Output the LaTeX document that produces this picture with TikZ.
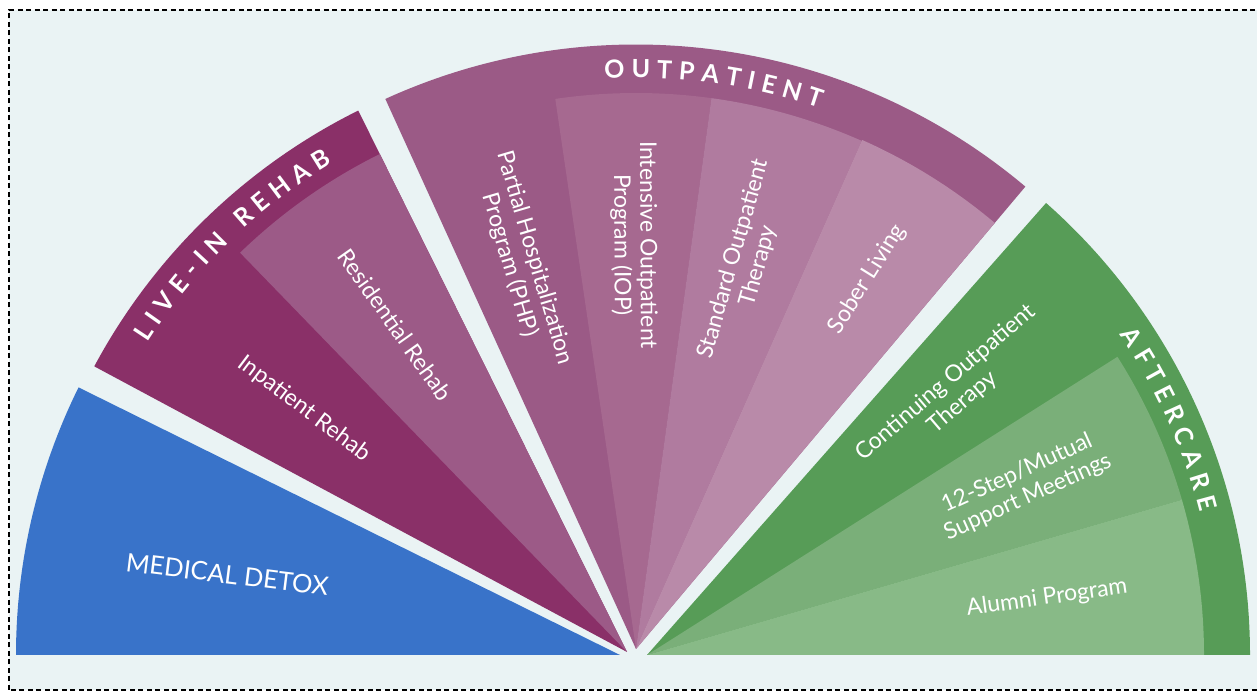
\documentclass[tikz,border=0pt]{standalone}
\usepackage{fontspec}
\setmainfont{Lato}
\usetikzlibrary{calc}
\definecolor{bgc}{HTML}{EAF3F4}
\definecolor{detoxc}{HTML}{3973C9}
\definecolor{liveinc}{HTML}{8A3068}
\definecolor{residc}{HTML}{9C5A87}
\definecolor{outpc}{HTML}{9B5A86}
\definecolor{iopc}{HTML}{A66990}
\definecolor{sotc}{HTML}{B07B9F}
\definecolor{soberc}{HTML}{B98AA9}
\definecolor{afterc}{HTML}{579C57}
\definecolor{stepc}{HTML}{7AAF79}
\definecolor{alumnic}{HTML}{88BA87}
\newcommand\hdrsize{25}
\newcommand\hdrfont{\fontsize{25}{25}\selectfont\bfseries}
\newcommand\mywedge[5]{\fill[#1] (#2) -- ++(#3:#5pt) arc[start angle=#3, end angle=#4, radius=#5pt] -- cycle;}
% #1 apex, #2 mid angle, #3 baseline radius, #4 tracking, #5 letter/width(em) list
\newcommand\arctext[5]{%
  \gdef\arcTot{0}%
  \foreach \ltr/\lw in {#5}{%
    \pgfmathsetmacro\tmpw{\arcTot+\lw*\hdrsize+#4}%
    \xdef\arcTot{\tmpw}}%
  \pgfmathsetmacro\arcStart{#2+(\arcTot-#4)/2/#3*180/pi}%
  \xdef\arcStart{\arcStart}%
  \gdef\arcAcc{0}%
  \foreach \ltr/\lw in {#5}{%
    \pgfmathsetmacro\ang{\arcStart-(\arcAcc+\lw*\hdrsize/2)/#3*180/pi}%
    \node[hdr, rotate=\ang-90] at ($(#1)+(\ang:#3pt)$) {\ltr};
    \pgfmathsetmacro\tmpw{\arcAcc+\lw*\hdrsize+#4}%
    \xdef\arcAcc{\tmpw}}%
}
\tikzset{
  hdr/.style={text=white, font=\hdrfont, inner sep=0pt, anchor=base},
  lbl/.style={text=white, font=\fontsize{23}{26}\selectfont, align=center, inner sep=0pt},
  big/.style={text=white, font=\fontsize{25.5}{28}\selectfont, inner sep=0pt}
}
\begin{document}
\begin{tikzpicture}[x=1pt,y=1pt]
\useasboundingbox (0,0) rectangle (1257,692);
\fill[white] (0,0) rectangle (1257,692);
\fill[bgc] (9,2) rectangle (1266,682);
\draw[black, line width=1.5pt, dash pattern=on 5pt off 3.5pt] (9,2) rectangle (1266,682);

\coordinate (D) at (620,37);
\coordinate (LI) at (627,40);
\coordinate (OP) at (636,43);
\coordinate (AC) at (647,37);

% Medical detox
\mywedge{detoxc}{D}{180}{153.7}{604}
% Live-in rehab
\mywedge{liveinc}{LI}{151.8}{116.4}{604.5}
\mywedge{residc}{LI}{134.1}{116.4}{556}
% Outpatient
\mywedge{outpc}{OP}{114.5}{49.9}{604.5}
\mywedge{iopc}{OP}{98.35}{82.2}{556}
\mywedge{sotc}{OP}{82.2}{66.05}{556}
\mywedge{soberc}{OP}{66.05}{49.9}{557}
% Aftercare
\mywedge{afterc}{AC}{48.56}{0}{603}
\mywedge{stepc}{AC}{32.37}{16.19}{557}
\mywedge{alumnic}{AC}{16.19}{0}{557}

% headers
\arctext{LI}{134.1}{571}{7}{L/0.50,I/0.29,V/0.70,E/0.56,-/0.38,I/0.29,N/0.76,~/0.25,R/0.64,E/0.56,H/0.76,A/0.70,B/0.66}
\arctext{OP}{82.2}{571}{7}{O/0.80,U/0.73,T/0.58,P/0.62,A/0.70,T/0.58,I/0.29,E/0.56,N/0.76,T/0.58}
\arctext{AC}{24.28}{571}{7}{A/0.70,F/0.54,T/0.58,E/0.56,R/0.64,C/0.66,A/0.70,R/0.64,E/0.56}

% labels
\node[big, rotate=-7] (detox) at ($(D)+(168.4:401)$) {MEDICAL DETOX};
\node[lbl, rotate=-37] (inpat) at ($(LI)+(143:404)$) {Inpatient Rehab};
\node[lbl, rotate=-54.7] (resid) at ($(LI)+(125.3:401)$) {Residential Rehab};
\node[lbl, rotate=-73.6] (php) at ($(OP)+(106.4:404)$) {Partial Hospitalization\\Program (PHP)};
\node[lbl, rotate=-89.7] (iop) at ($(OP)+(90.3:404)$) {Intensive Outpatient\\Program (IOP)};
\node[lbl, rotate=74.1] (sot) at ($(OP)+(74.1:402)$) {Standard Outpatient\\Therapy};
\node[lbl, rotate=58] (sober) at ($(OP)+(58:436)$) {Sober Living};
\node[lbl, rotate=40.5] (cot) at ($(AC)+(40.5:404)$) {Continuing Outpatient\\Therapy};
\node[lbl, rotate=24.3] (step12) at ($(AC)+(24.3:412)$) {12-Step/Mutual\\Support Meetings};
\node[lbl, rotate=8.1] (alumni) at ($(AC)+(8.1:404)$) {Alumni Program};
\end{tikzpicture}
\end{document}
